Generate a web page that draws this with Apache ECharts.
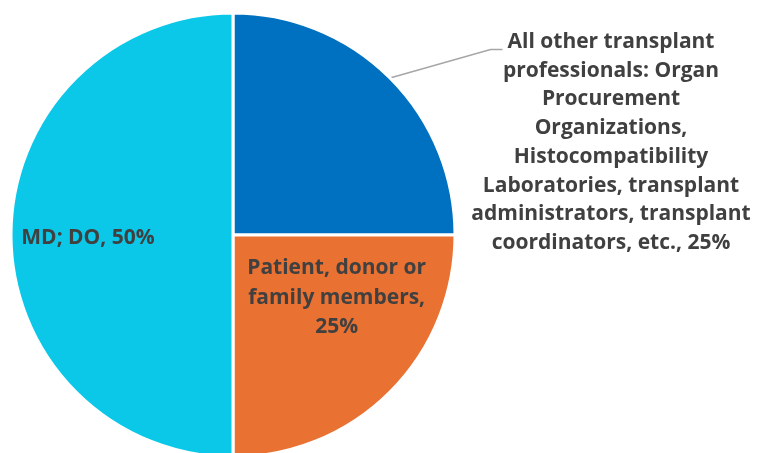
<!DOCTYPE html>
<html><head><meta charset="utf-8">
<script src="https://cdn.jsdelivr.net/npm/echarts@6/dist/echarts.min.js"></script>
<style>html,body{margin:0;padding:0;background:#fff}#c{width:762px;height:453px}</style>
</head><body><div id="c"></div>
<script>
const categories = [
  "All other transplant\nprofessionals: Organ\nProcurement\nOrganizations,\nHistocompatibility\nLaboratories, transplant\nadministrators, transplant\ncoordinators, etc.",
  "Patient, donor or\nfamily members,",
  "MD; DO"
];
const values = [25, 25, 50];
const colors = ["#0070C0", "#E97132", "#0BC8E8"];

const chart = echarts.init(document.getElementById('c'), null, {renderer: 'canvas'});
const font = '"Open Sans", Lato, sans-serif';
const fontSize = 21;
const lineH = 28.7;
const data = categories.map((n, i) => ({
  name: n, value: values[i],
  itemStyle: {color: colors[i]}
}));
data[0].label = {position: 'outside', formatter: p => p.name + ', ' + p.value + '%'};
data[1].label = {position: 'inside', offset: [23, -18], lineHeight: 29.5, formatter: p => p.name + '\n' + p.value + '%'};
data[2].label = {position: 'inside', offset: [-31, 3], formatter: p => p.name + ', ' + p.value + '%'};
data[1].labelLine = {show: false};
data[2].labelLine = {show: false};

const mctx = document.createElement('canvas').getContext('2d');
mctx.font = 'bold ' + fontSize + 'px ' + font;
const firstLineW = mctx.measureText(categories[0].split('\n')[0]).width;

chart.setOption({
  animation: false,
  series: [{
    type: 'pie',
    center: [233, 235],
    radius: [0, 222],
    startAngle: 90,
    clockwise: true,
    data: data,
    itemStyle: {borderColor: '#fff', borderWidth: 3},
    label: {
      color: '#404040', fontFamily: font, fontWeight: 'bold', fontSize: fontSize,
      lineHeight: lineH, align: 'center'
    },
    labelLine: {show: true, lineStyle: {color: '#A6A6A6', width: 1.5}, length: 10, length2: 10},
    labelLayout: function (p) {
      if (p.dataIndex === 0) {
        const cx = 611, top = 27.7;
        const y1 = top + lineH / 2 + 7.5;
        const endX = cx - firstLineW / 2 - 5;
        const start = p.labelLinePoints ? p.labelLinePoints[0] : [390, 78];
        return {
          x: cx, y: top, align: 'center', verticalAlign: 'top',
          labelLinePoints: [start, [endX - 12, y1], [endX, y1]]
        };
      }
      return {};
    }
  }]
});
</script></body></html>
